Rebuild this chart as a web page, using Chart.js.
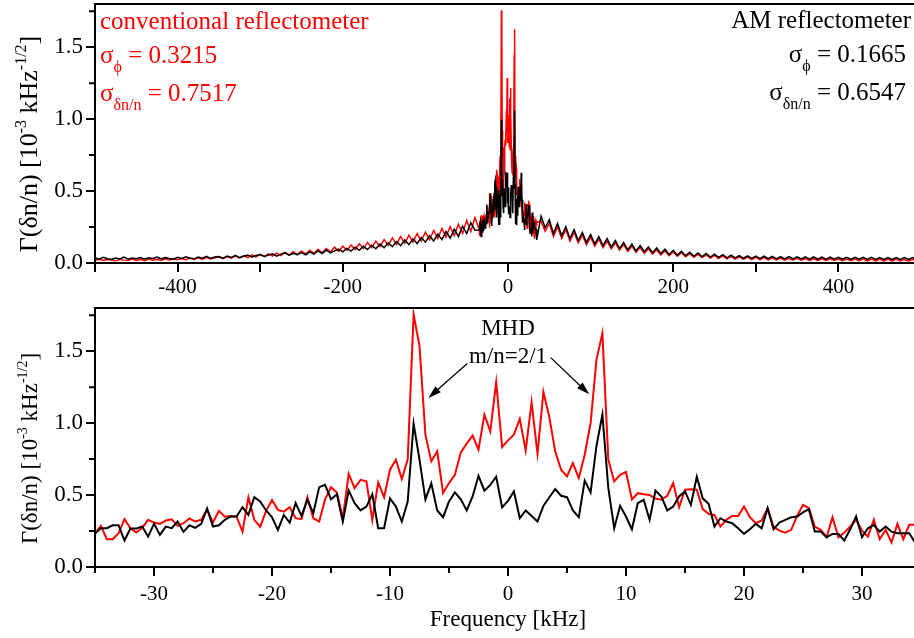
<!DOCTYPE html>
<html>
<head>
<meta charset="utf-8">
<script src="https://cdn.jsdelivr.net/npm/chart.js@4.4.1/dist/chart.umd.min.js"></script>
<style>
  html, body { margin: 0; padding: 0; background: #fff; width: 914px; height: 638px; overflow: hidden; }
  canvas { position: absolute; left: 0; }
  #topChart { top: 0; }
  #bottomChart { top: 300px; }
</style>
</head>
<body>
<canvas id="topChart" width="924" height="300"></canvas>
<canvas id="bottomChart" width="924" height="338"></canvas>
<script>
// ---- data ----
// zoomed panel: -35..35 kHz, 0.5 kHz steps
const bottomFreq = [
  -35,-34.5,-34,-33.5,-33,-32.5,-32,-31.5,-31,-30.5,
  -30,-29.5,-29,-28.5,-28,-27.5,-27,-26.5,-26,-25.5,
  -25,-24.5,-24,-23.5,-23,-22.5,-22,-21.5,-21,-20.5,
  -20,-19.5,-19,-18.5,-18,-17.5,-17,-16.5,-16,-15.5,
  -15,-14.5,-14,-13.5,-13,-12.5,-12,-11.5,-11,-10.5,
  -10,-9.5,-9,-8.5,-8,-7.5,-7,-6.5,-6,-5.5,
  -5,-4.5,-4,-3.5,-3,-2.5,-2,-1.5,-1,-0.5,
  0,0.5,1,1.5,2,2.5,3,3.5,4,4.5,
  5,5.5,6,6.5,7,7.5,8,8.5,9,9.5,
  10,10.5,11,11.5,12,12.5,13,13.5,14,14.5,
  15,15.5,16,16.5,17,17.5,18,18.5,19,19.5,
  20,20.5,21,21.5,22,22.5,23,23.5,24,24.5,
  25,25.5,26,26.5,27,27.5,28,28.5,29,29.5,
  30,30.5,31,31.5,32,32.5,33,33.5,34,34.5,
  35
];
const bottomConv = [
  0.235,0.286,0.193,0.193,0.235,0.332,0.269,0.239,0.272,0.328,
  0.309,0.30,0.323,0.332,0.286,0.304,0.337,0.316,0.328,0.40,
  0.309,0.39,0.35,0.355,0.35,0.246,0.485,0.328,0.28,0.39,
  0.465,0.397,0.385,0.416,0.339,0.332,0.485,0.339,0.316,0.47,
  0.555,0.518,0.339,0.648,0.548,0.606,0.595,0.327,0.588,0.485,
  0.676,0.746,0.611,0.746,1.756,1.535,0.92,0.734,0.804,0.514,
  0.583,0.641,0.797,0.857,0.913,0.815,1.059,0.943,1.285,0.834,
  0.88,0.92,1.029,0.81,1.145,0.787,1.217,1.043,0.804,0.676,
  0.63,0.722,0.618,0.78,1.0,1.443,1.624,0.746,0.595,0.641,
  0.66,0.47,0.513,0.506,0.50,0.476,0.467,0.495,0.583,0.416,
  0.537,0.541,0.537,0.402,0.37,0.36,0.281,0.328,0.355,0.355,
  0.42,0.346,0.304,0.323,0.409,0.281,0.253,0.239,0.258,0.355,
  0.432,0.409,0.281,0.258,0.207,0.346,0.207,0.239,0.281,0.328,
  0.253,0.211,0.328,0.193,0.258,0.17,0.30,0.193,0.293,0.293,
  0.281
];
const bottomAM = [
  0.23,0.27,0.27,0.29,0.29,0.184,0.267,0.267,0.281,0.211,
  0.30,0.223,0.281,0.27,0.316,0.244,0.29,0.272,0.30,0.406,
  0.281,0.29,0.328,0.351,0.351,0.416,0.362,0.485,0.455,0.393,
  0.346,0.258,0.362,0.309,0.444,0.355,0.467,0.374,0.555,0.571,
  0.47,0.505,0.316,0.532,0.444,0.393,0.42,0.505,0.269,0.269,
  0.477,0.42,0.316,0.455,0.996,0.746,0.47,0.581,0.393,0.346,
  0.455,0.518,0.47,0.393,0.49,0.634,0.53,0.571,0.627,0.414,
  0.46,0.525,0.339,0.393,0.355,0.316,0.425,0.485,0.541,0.495,
  0.485,0.393,0.346,0.60,0.518,0.843,1.06,0.55,0.269,0.425,
  0.351,0.262,0.444,0.467,0.328,0.532,0.49,0.393,0.42,0.49,
  0.525,0.432,0.627,0.477,0.44,0.281,0.339,0.316,0.304,0.269,
  0.23,0.262,0.30,0.269,0.409,0.262,0.309,0.328,0.346,0.351,
  0.379,0.402,0.246,0.246,0.207,0.23,0.23,0.184,0.262,0.351,
  0.207,0.269,0.292,0.246,0.281,0.246,0.234,0.234,0.234,0.17,
  0.16
];

// full spectrum outside the zoomed window, 5 kHz steps
const topFreqLeft = [
  -500,-495,-490,-485,-480,-475,-470,-465,-460,-455,
  -450,-445,-440,-435,-430,-425,-420,-415,-410,-405,
  -400,-395,-390,-385,-380,-375,-370,-365,-360,-355,
  -350,-345,-340,-335,-330,-325,-320,-315,-310,-305,
  -300,-295,-290,-285,-280,-275,-270,-265,-260,-255,
  -250,-245,-240,-235,-230,-225,-220,-215,-210,-205,
  -200,-195,-190,-185,-180,-175,-170,-165,-160,-155,
  -150,-145,-140,-135,-130,-125,-120,-115,-110,-105,
  -100,-95,-90,-85,-80,-75,-70,-65,-60,-55,
  -50,-45,-40
];
const topAMLeft = [
  0.036,0.027,0.039,0.03,0.025,0.035,0.028,0.041,0.027,0.034,
  0.029,0.038,0.026,0.036,0.031,0.042,0.028,0.038,0.032,0.027,
  0.04,0.031,0.043,0.033,0.029,0.042,0.034,0.047,0.032,0.041,
  0.045,0.034,0.049,0.039,0.053,0.037,0.047,0.056,0.041,0.052,
  0.058,0.045,0.056,0.064,0.048,0.062,0.071,0.054,0.068,0.058,
  0.072,0.057,0.078,0.062,0.085,0.066,0.09,0.07,0.084,0.096,
  0.078,0.101,0.083,0.11,0.088,0.116,0.094,0.123,0.099,0.131,
  0.106,0.14,0.113,0.149,0.121,0.16,0.128,0.168,0.136,0.177,
  0.145,0.189,0.153,0.201,0.162,0.218,0.172,0.235,0.184,0.256,
  0.205,0.28,0.228
];
const topConvLeft = [
  0.019,0.026,0.017,0.024,0.02,0.015,0.025,0.02,0.017,0.027,
  0.018,0.025,0.016,0.028,0.02,0.026,0.018,0.029,0.021,0.027,
  0.022,0.031,0.023,0.034,0.025,0.036,0.026,0.038,0.028,0.037,
  0.041,0.03,0.045,0.033,0.049,0.036,0.052,0.038,0.056,0.042,
  0.06,0.045,0.064,0.048,0.069,0.051,0.073,0.055,0.078,0.058,
  0.084,0.063,0.089,0.067,0.095,0.071,0.1,0.076,0.11,0.081,
  0.117,0.088,0.125,0.094,0.134,0.1,0.143,0.107,0.153,0.114,
  0.163,0.122,0.174,0.129,0.184,0.137,0.193,0.145,0.204,0.153,
  0.215,0.161,0.226,0.17,0.24,0.18,0.253,0.191,0.27,0.205,
  0.295,0.22,0.315
];
const topFreqRight = [
  40,45,50,55,60,65,70,75,80,85,
  90,95,100,105,110,115,120,125,130,135,
  140,145,150,155,160,165,170,175,180,185,
  190,195,200,205,210,215,220,225,230,235,
  240,245,250,255,260,265,270,275,280,285,
  290,295,300,305,310,315,320,325,330,335,
  340,345,350,355,360,365,370,375,380,385,
  390,395,400,405,410,415,420,425,430,435,
  440,445,450,455,460,465,470,475,480,485,
  490,495,500
];
const topAMRight = [
  0.325,0.245,0.3,0.205,0.275,0.19,0.252,0.17,0.232,0.156,
  0.212,0.143,0.198,0.131,0.183,0.121,0.17,0.11,0.156,0.1,
  0.143,0.092,0.132,0.084,0.121,0.078,0.112,0.071,0.104,0.065,
  0.096,0.059,0.088,0.055,0.081,0.051,0.075,0.047,0.07,0.044,
  0.066,0.041,0.062,0.039,0.058,0.036,0.055,0.035,0.052,0.033,
  0.05,0.032,0.048,0.031,0.047,0.03,0.046,0.029,0.045,0.029,
  0.044,0.028,0.043,0.028,0.042,0.027,0.042,0.027,0.041,0.026,
  0.041,0.026,0.04,0.026,0.04,0.025,0.039,0.026,0.039,0.025,
  0.039,0.025,0.038,0.025,0.038,0.024,0.038,0.025,0.037,0.024,
  0.037,0.024,0.037
];
const topConvRight = [
  0.29,0.22,0.275,0.185,0.252,0.17,0.232,0.153,0.212,0.14,
  0.193,0.127,0.179,0.117,0.165,0.107,0.152,0.098,0.14,0.089,
  0.128,0.081,0.117,0.074,0.108,0.068,0.099,0.062,0.091,0.056,
  0.083,0.051,0.077,0.047,0.071,0.043,0.065,0.04,0.06,0.037,
  0.056,0.034,0.052,0.031,0.049,0.029,0.046,0.027,0.043,0.026,
  0.041,0.024,0.039,0.023,0.037,0.022,0.036,0.021,0.034,0.02,
  0.033,0.019,0.032,0.019,0.031,0.018,0.03,0.018,0.029,0.017,
  0.029,0.017,0.028,0.016,0.028,0.016,0.027,0.016,0.027,0.015,
  0.026,0.015,0.026,0.015,0.025,0.014,0.025,0.015,0.024,0.014,
  0.024,0.014,0.023
];

// ticks
const topXTicks = [-500,-400,-300,-200,-100,0,100,200,300,400,500];
const topXLabels = [-400,-200,0,200,400];
const bottomXTicks = [-30,-20,-10,0,10,20,30];
const bottomXMinor = [-35,-25,-15,-5,5,15,25,35];
const yTicks = [0,0.5,1,1.5];
const yMinor = [0.25,0.75,1.25,1.75];

const RED = '#ff0000';
const FONT = '"Liberation Serif", "Times New Roman", serif';
Chart.defaults.font.family = FONT;
Chart.defaults.color = '#000';

function pts(xs, ys) { return xs.map((x, i) => ({ x: x, y: ys[i] })); }

const topFreq = topFreqLeft.concat(bottomFreq, topFreqRight);
const topConv = topConvLeft.concat(bottomConv, topConvRight);
const topAM = topAMLeft.concat(bottomAM, topAMRight);

// draws a run of text pieces (for sub/superscripts)
function drawRuns(ctx, x, y, runs, align, color) {
  let w = 0;
  runs.forEach(r => { ctx.font = r.size + 'px ' + FONT; w += ctx.measureText(r.t).width; });
  let cx = align === 'right' ? x - w : (align === 'center' ? x - w / 2 : x);
  ctx.fillStyle = color;
  ctx.textAlign = 'left';
  ctx.textBaseline = 'alphabetic';
  runs.forEach(r => {
    ctx.font = r.size + 'px ' + FONT;
    ctx.fillText(r.t, cx, y + (r.dy || 0));
    cx += ctx.measureText(r.t).width;
  });
}

function sigma(sub, rest) {
  return [{ t: 'σ', size: 25 }, { t: sub, size: 16, dy: 9 }, { t: rest, size: 25 }];
}

function yTitle(ctx, cy, size) {
  const sup = Math.round(size * 0.62), up = -Math.round(size * 0.42);
  ctx.save();
  ctx.translate(37, cy);
  ctx.rotate(-Math.PI / 2);
  drawRuns(ctx, 0, 0, [
    { t: 'Γ(δn/n) [10', size: size },
    { t: '-3', size: sup, dy: up },
    { t: ' kHz', size: size },
    { t: '-1/2', size: sup, dy: up },
    { t: ']', size: size }
  ], 'center', '#000');
  ctx.restore();
}

function frameAndMinor(chart, xMinor) {
  const ctx = chart.ctx, a = chart.chartArea;
  const xs = chart.scales.x, ys = chart.scales.y;
  ctx.save();
  ctx.strokeStyle = '#000';
  ctx.lineWidth = 2;
  ctx.beginPath();
  ctx.moveTo(a.left, a.bottom);
  ctx.lineTo(a.left, a.top);
  ctx.lineTo(a.right, a.top);
  ctx.lineTo(a.right, a.bottom);
  ctx.stroke();
  ctx.beginPath();
  xMinor.forEach(v => {
    const px = xs.getPixelForValue(v);
    ctx.moveTo(px, a.bottom);
    ctx.lineTo(px, a.bottom + 6);
  });
  yMinor.forEach(v => {
    const py = ys.getPixelForValue(v);
    ctx.moveTo(a.left, py);
    ctx.lineTo(a.left - 6, py);
  });
  ctx.stroke();
  ctx.restore();
}

function arrow(ctx, x1, y1, x2, y2) {
  const ang = Math.atan2(y2 - y1, x2 - x1);
  const len = 13, half = 4;
  ctx.beginPath();
  ctx.moveTo(x1, y1);
  ctx.lineTo(x2 - Math.cos(ang) * len * 0.8, y2 - Math.sin(ang) * len * 0.8);
  ctx.stroke();
  ctx.beginPath();
  ctx.moveTo(x2, y2);
  ctx.lineTo(x2 - Math.cos(ang) * len + Math.sin(ang) * half, y2 - Math.sin(ang) * len - Math.cos(ang) * half);
  ctx.lineTo(x2 - Math.cos(ang) * len - Math.sin(ang) * half, y2 - Math.sin(ang) * len + Math.cos(ang) * half);
  ctx.closePath();
  ctx.fill();
}

function scales(xMin, xMax, xTicks, xLabel, labelPad, xHeight, titleOpt) {
  return {
    x: {
      type: 'linear', min: xMin, max: xMax,
      afterBuildTicks: s => { s.ticks = xTicks.map(v => ({ value: v })); },
      afterFit: s => { s.height = xHeight; s.paddingLeft = 0; s.paddingRight = 0; },
      grid: { drawOnChartArea: false, color: '#000', lineWidth: 2, tickLength: 9 },
      border: { display: true, color: '#000', width: 2 },
      ticks: { autoSkip: false, maxRotation: 0, padding: labelPad, font: { size: 21 }, color: '#000', callback: xLabel },
      title: titleOpt
    },
    y: {
      min: 0, max: 1.8,
      afterBuildTicks: s => { s.ticks = yTicks.map(v => ({ value: v })); },
      afterFit: s => { s.width = 95; s.paddingTop = 0; s.paddingBottom = 0; },
      grid: { drawOnChartArea: false, color: '#000', lineWidth: 2, tickLength: 9 },
      border: { display: true, color: '#000', width: 2 },
      ticks: { padding: 3, font: { size: 23 }, color: '#000', callback: v => v.toFixed(1) }
    }
  };
}

const common = {
  responsive: false, animation: false, devicePixelRatio: 1,
  plugins: { legend: { display: false }, tooltip: { enabled: false } },
  elements: { point: { radius: 0 }, line: { tension: 0 } }
};

new Chart(document.getElementById('topChart'), {
  type: 'line',
  data: {
    datasets: [
      { label: 'AM reflectometer', data: pts(topFreq, topAM), borderColor: '#000', borderWidth: 1.5 },
      { label: 'conventional reflectometer', data: pts(topFreq, topConv), borderColor: RED, borderWidth: 1.5 }
    ]
  },
  options: Object.assign({}, common, {
    layout: { padding: { top: 4, right: 3, left: 0, bottom: 0 } },
    scales: scales(-500, 500, topXTicks, v => topXLabels.includes(v) ? String(v) : '', 3, 37, { display: false })
  }),
  plugins: [{
    id: 'topDeco',
    afterDraw(chart) {
      const ctx = chart.ctx;
      frameAndMinor(chart, []);
      yTitle(ctx, 144, 26);
      drawRuns(ctx, 100, 29, [{ t: 'conventional reflectometer', size: 25 }], 'left', RED);
      drawRuns(ctx, 100, 63, sigma('ϕ', ' = 0.3215'), 'left', RED);
      drawRuns(ctx, 100, 101, sigma('δn/n', ' = 0.7517'), 'left', RED);
      drawRuns(ctx, 911, 28, [{ t: 'AM reflectometer', size: 25 }], 'right', '#000');
      drawRuns(ctx, 906, 62, sigma('ϕ', ' = 0.1665'), 'right', '#000');
      drawRuns(ctx, 906, 100, sigma('δn/n', ' = 0.6547'), 'right', '#000');
    }
  }]
});

new Chart(document.getElementById('bottomChart'), {
  type: 'line',
  data: {
    datasets: [
      { label: 'AM reflectometer', data: pts(bottomFreq, bottomAM), borderColor: '#000', borderWidth: 2 },
      { label: 'conventional reflectometer', data: pts(bottomFreq, bottomConv), borderColor: RED, borderWidth: 2 }
    ]
  },
  options: Object.assign({}, common, {
    layout: { padding: { top: 8, right: 3, left: 0, bottom: 0 } },
    scales: scales(-35, 35, bottomXTicks, v => String(v), 6, 71,
      { display: true, text: 'Frequency [kHz]', font: { size: 23 }, color: '#000', padding: { top: 0, bottom: 4 } })
  }),
  plugins: [{
    id: 'bottomDeco',
    afterDraw(chart) {
      const ctx = chart.ctx, xs = chart.scales.x, ys = chart.scales.y;
      frameAndMinor(chart, bottomXMinor);
      yTitle(ctx, 148.5, 23);
      drawRuns(ctx, xs.getPixelForValue(0), ys.getPixelForValue(1.61), [{ t: 'MHD', size: 23 }], 'center', '#000');
      drawRuns(ctx, xs.getPixelForValue(0), ys.getPixelForValue(1.415), [{ t: 'm/n=2/1', size: 23 }], 'center', '#000');
      ctx.save();
      ctx.strokeStyle = '#000';
      ctx.fillStyle = '#000';
      ctx.lineWidth = 1.3;
      arrow(ctx, xs.getPixelForValue(-3.45), ys.getPixelForValue(1.415), xs.getPixelForValue(-6.75), ys.getPixelForValue(1.175));
      arrow(ctx, xs.getPixelForValue(3.62), ys.getPixelForValue(1.455), xs.getPixelForValue(6.89), ys.getPixelForValue(1.2));
      ctx.restore();
    }
  }]
});
</script>
</body>
</html>
